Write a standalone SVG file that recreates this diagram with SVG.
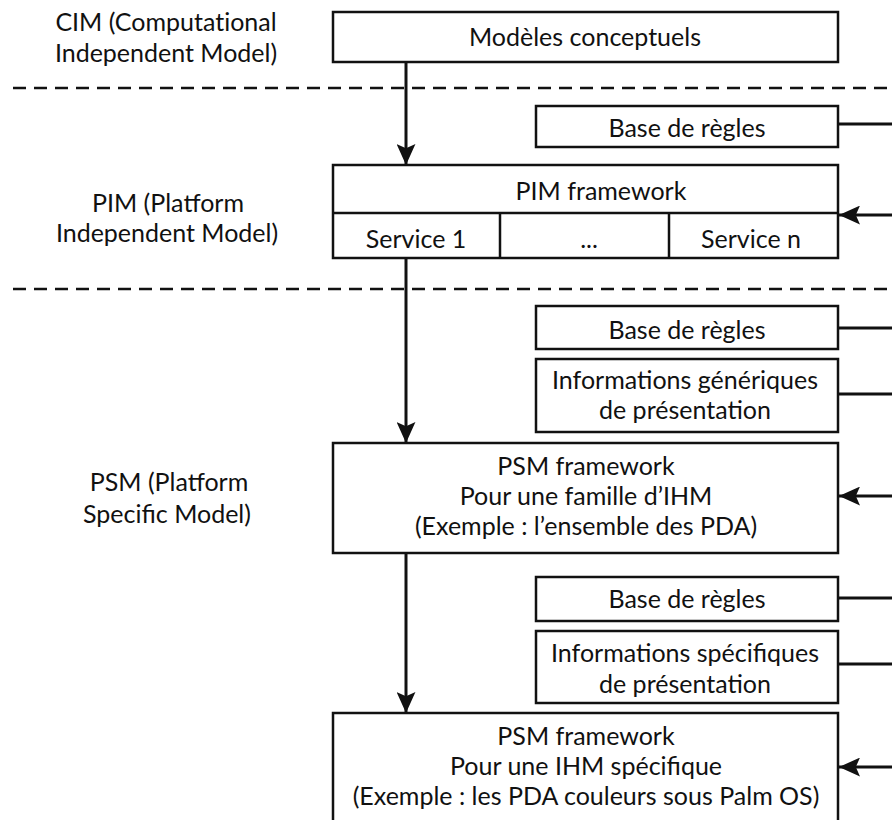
<svg xmlns="http://www.w3.org/2000/svg" width="892" height="820" viewBox="0 0 892 820">
<defs>
<style>
text{font-family:Lato,"Open Sans","DejaVu Sans",sans-serif;font-size:25px;fill:#111;text-anchor:middle}
.noliga{font-variant-ligatures:none}
.box{fill:#fff;stroke:#111;stroke-width:2.5}
.sep{stroke:#111;stroke-width:2.5}
.dash{stroke:#111;stroke-width:2.5;stroke-dasharray:13 8;fill:none}
.conn{stroke:#111;stroke-width:3;fill:none}
.arr{stroke:#111;stroke-width:3;fill:none;marker-end:url(#ah)}
</style>
<marker id="ah" viewBox="0 0 20 18" refX="20" refY="9" markerWidth="21" markerHeight="19" orient="auto" markerUnits="userSpaceOnUse">
<path d="M0,0 L20,9 L0,18 L4,9 z" fill="#111"/>
</marker>
</defs>

<g id="labels">
<g id="cim-label"><text class="noliga" x="166" y="31">CIM (Computational</text><text x="166" y="62">Independent Model)</text></g>
<g id="pim-label"><text x="168" y="212">PIM (Platform</text><text x="167" y="242">Independent Model)</text></g>
<g id="psm-label"><text x="169" y="491">PSM (Platform</text><text x="167" y="523">Specific Model)</text></g>
</g>

<g id="separators">
<line class="dash" x1="13" y1="88" x2="892" y2="88"/>
<line class="dash" x1="13" y1="289" x2="892" y2="289"/>
</g>

<g id="connectors">
<line class="arr" x1="406" y1="62" x2="406" y2="165"/>
<line class="arr" x1="406" y1="258" x2="406" y2="443"/>
<line class="arr" x1="406" y1="553" x2="406" y2="713"/>
<line class="conn" x1="838" y1="124" x2="892" y2="124"/>
<line class="arr" x1="892" y1="215" x2="839" y2="215"/>
<line class="conn" x1="838" y1="328" x2="892" y2="328"/>
<line class="conn" x1="838" y1="394" x2="892" y2="394"/>
<line class="arr" x1="892" y1="496" x2="839" y2="496"/>
<line class="conn" x1="838" y1="598" x2="892" y2="598"/>
<line class="conn" x1="838" y1="664" x2="892" y2="664"/>
<line class="arr" x1="892" y1="767" x2="839" y2="767"/>
</g>

<g id="cim-models">
<rect class="box" x="333" y="12" width="505" height="50"/>
<text x="585" y="46">Modèles conceptuels</text>
</g>

<g id="rules-1">
<rect class="box" x="536" y="106" width="302" height="41"/>
<text x="687" y="137">Base de règles</text>
</g>

<g id="pim-framework">
<rect class="box" x="333" y="165" width="505" height="93"/>
<line class="sep" x1="333" y1="213" x2="838" y2="213"/>
<line class="sep" x1="500" y1="213" x2="500" y2="258"/>
<line class="sep" x1="669" y1="213" x2="669" y2="258"/>
<text x="601" y="200">PIM framework</text>
<text x="416" y="248">Service 1</text>
<text x="589" y="248">...</text>
<text x="751" y="248">Service n</text>
</g>

<g id="rules-2">
<rect class="box" x="536" y="306" width="302" height="43"/>
<text x="687" y="339">Base de règles</text>
</g>

<g id="generic-info">
<rect class="box" x="536" y="359" width="302" height="73"/>
<text x="685" y="389">Informations génériques</text>
<text x="685" y="419">de présentation</text>
</g>

<g id="psm-family">
<rect class="box" x="333" y="443" width="505" height="110"/>
<text x="586" y="475">PSM framework</text>
<text x="586" y="505">Pour une famille d’IHM</text>
<text x="586" y="535">(Exemple : l’ensemble des PDA)</text>
</g>

<g id="rules-3">
<rect class="box" x="536" y="577" width="302" height="44"/>
<text x="687" y="608">Base de règles</text>
</g>

<g id="specific-info">
<rect class="box" x="536" y="631" width="302" height="72"/>
<text x="685" y="662">Informations spécifiques</text>
<text x="685" y="693">de présentation</text>
</g>

<g id="psm-specific">
<rect class="box" x="333" y="713" width="505" height="112"/>
<text x="586" y="745">PSM framework</text>
<text x="586" y="775">Pour une IHM spécifique</text>
<text x="586" y="805">(Exemple : les PDA couleurs sous Palm OS)</text>
</g>
</svg>
